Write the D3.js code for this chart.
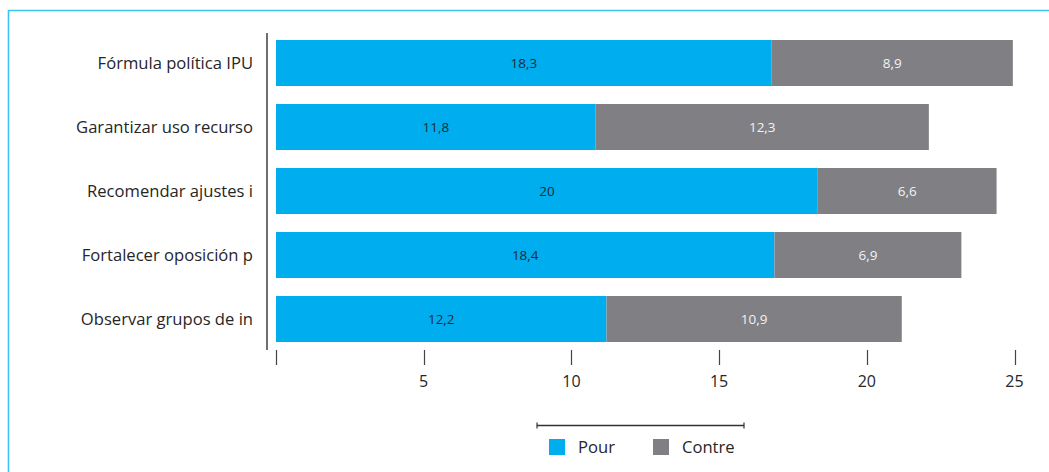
<!DOCTYPE html>
<html>
<head>
<meta charset="utf-8">
<script src="https://cdn.jsdelivr.net/npm/d3@7"></script>
<style>
  html, body { margin: 0; padding: 0; background: #fff; }
  svg { display: block; }
  text { font-family: "Open Sans", "Noto Sans", sans-serif; }
</style>
</head>
<body>
<svg id="chart" width="1049" height="472"></svg>
<script>
const categories = ["Fórmula política IPU", "Garantizar uso recurso", "Recomendar ajustes i", "Fortalecer oposición p", "Observar grupos de in"];
const pour = [18.3, 11.8, 20, 18.4, 12.2];
const contre = [8.9, 12.3, 6.6, 6.9, 10.9];
const seriesNames = ["Pour", "Contre"];
const tickValues = [0, 5, 10, 15, 20, 25];
const colors = ["#00aeef", "#808084"];

const svg = d3.select("#chart");

// frame
svg.append("path")
  .attr("d", "M8.5,480 V10.5 H1060")
  .attr("fill", "none").attr("stroke", "#3cc3f2").attr("stroke-width", 1.6);

const x0 = 276, x1 = 1015;
const xBar = d3.scaleLinear().domain([0, 27.28]).range([x0, x1]);
const xAxisScale = d3.scaleLinear().domain([0, 25]).range([x0, x1 - 0.5]);
// bands: first bar at y=40, step 64, bar height 46
const yB = d3.scaleBand().domain(categories).range([40 - 9, 40 - 9 + 64 * 5]).paddingInner(18/64).paddingOuter(9/64);

const rows = categories.map((c, i) => ({ cat: c, vals: [pour[i], contre[i]] }));
const stack = d3.stack().keys([0, 1]).value((d, k) => d.vals[k]);
const stacked = stack(rows);

const g = svg.append("g");
stacked.forEach((layer, k) => {
  const lg = g.append("g");
  lg.selectAll("rect").data(layer).enter().append("rect")
    .attr("x", d => xBar(d[0]))
    .attr("y", d => yB(d.data.cat))
    .attr("width", d => xBar(d[1]) - xBar(d[0]))
    .attr("height", yB.bandwidth())
    .attr("fill", colors[k]);
  lg.selectAll("text").data(layer).enter().append("text")
    .attr("x", d => (xBar(d[0]) + xBar(d[1])) / 2)
    .attr("y", d => yB(d.data.cat) + yB.bandwidth() / 2)
    .attr("dy", "0.35em")
    .attr("text-anchor", "middle")
    .attr("font-size", 13.5)
    .attr("fill", k === 0 ? "#1f2a33" : "#f2f2f2")
    .text(d => String(d.data.vals[k]).replace(".", ","));
});

// category labels
svg.append("g").selectAll("text").data(categories).enter().append("text")
  .attr("x", 253)
  .attr("y", d => yB(d) + yB.bandwidth() / 2)
  .attr("dy", "0.35em")
  .attr("text-anchor", "end")
  .attr("font-size", 16.6)
  .attr("fill", "#262626")
  .text(d => d);

// vertical axis line
svg.append("line").attr("x1", 267).attr("x2", 267).attr("y1", 33).attr("y2", 350)
  .attr("stroke", "#222").attr("stroke-width", 1.3);

// x axis ticks
const ax = svg.append("g");
ax.selectAll("line").data(tickValues).enter().append("line")
  .attr("x1", d => Math.round(xAxisScale(d)) + 0.5).attr("x2", d => Math.round(xAxisScale(d)) + 0.5)
  .attr("y1", 350).attr("y2", 365)
  .attr("stroke", "#444").attr("stroke-width", 1.2);
ax.selectAll("text").data(tickValues.filter(d => d > 0)).enter().append("text")
  .attr("x", d => xAxisScale(d))
  .attr("y", 381)
  .attr("dy", "0.35em")
  .attr("text-anchor", "middle")
  .attr("font-size", 16)
  .attr("fill", "#262626")
  .text(d => d);

// legend
const leg = svg.append("g");
leg.append("line").attr("x1", 537).attr("x2", 744).attr("y1", 425.5).attr("y2", 425.5)
  .attr("stroke", "#333").attr("stroke-width", 1.3);
[537, 744].forEach(xx => leg.append("line").attr("x1", xx).attr("x2", xx).attr("y1", 422.5).attr("y2", 428.5)
  .attr("stroke", "#333").attr("stroke-width", 1.2));
const legX = [549, 653];
seriesNames.forEach((n, i) => {
  leg.append("rect").attr("x", legX[i]).attr("y", 439).attr("width", 16).attr("height", 16).attr("fill", colors[i]);
  leg.append("text").attr("x", legX[i] + 29).attr("y", 447).attr("dy", "0.35em")
    .attr("font-size", 16.6).attr("fill", "#262626").text(n);
});
</script>
</body>
</html>
